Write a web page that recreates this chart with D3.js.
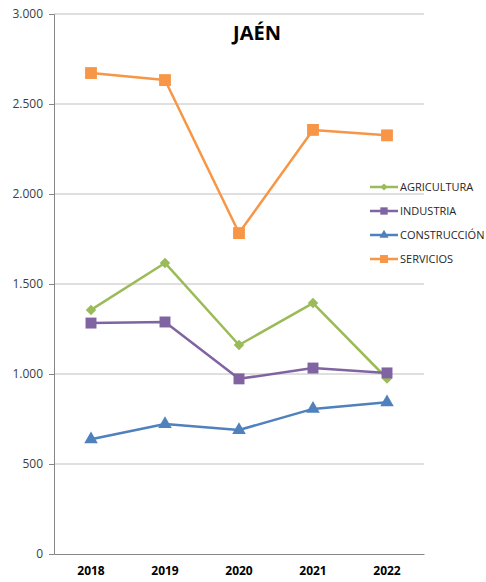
<!DOCTYPE html>
<html>
<head>
<meta charset="utf-8">
<script src="https://cdn.jsdelivr.net/npm/d3@7"></script>
<style>
body { margin: 0; background: #fff; }
svg text { font-family: "Open Sans", "Liberation Sans", sans-serif; }
</style>
</head>
<body>
<svg id="chart" width="486" height="582"></svg>
<script>
// data
var years = ["2018", "2019", "2020", "2021", "2022"];
var agricultura  = [1356, 1617, 1161, 1394, 975];
var industria    = [1283, 1289, 973, 1033, 1006];
var construccion = [637, 722, 689, 806, 843];
var servicios    = [2672, 2633, 1783, 2356, 2326];
var yTicks = [0, 500, 1000, 1500, 2000, 2500, 3000];

var series = [
    {name: "AGRICULTURA",  values: agricultura,  color: "#9BBB59", symbol: d3.symbolDiamond2, size: 70},
    {name: "INDUSTRIA",    values: industria,    color: "#8064A2", symbol: d3.symbolSquare,   size: 120},
    {name: "CONSTRUCCIÓN", values: construccion, color: "#4F81BD", symbol: d3.symbolTriangle, size: 80},
    {name: "SERVICIOS",    values: servicios,    color: "#F79646", symbol: d3.symbolSquare,   size: 140}
];

var svg = d3.select("#chart"),
    margin = {top: 14, left: 54},
    width = 370,
    height = 540,
    g = svg.append("g").attr("transform", "translate(" + margin.left + "," + margin.top + ")");

var x = d3.scaleBand().domain(years).range([0, width]);
var y = d3.scaleLinear().domain([0, 3000]).range([height, 0]);
var fmt = d3.format(",.0f");
var fmtEs = v => fmt(v).replace(/,/g, ".");

// gridlines
g.selectAll(".grid")
    .data(yTicks.filter(d => d > 0))
    .enter().append("line")
    .attr("x1", 0).attr("x2", width)
    .attr("y1", d => y(d)).attr("y2", d => y(d))
    .attr("stroke", "#BFBFBF").attr("stroke-width", 1);

// y axis
var yAxis = g.append("g")
    .call(d3.axisLeft(y).tickValues(yTicks).tickFormat(fmtEs).tickSize(5).tickPadding(6));
yAxis.select(".domain").attr("stroke", "#868686");
yAxis.selectAll(".tick line").attr("stroke", "#868686");
yAxis.selectAll("text").attr("fill", "#404040").style("font-size", "12px");

// x axis
var xAxis = g.append("g")
    .attr("transform", "translate(0," + height + ")")
    .call(d3.axisBottom(x).tickSize(0).tickPadding(12));
xAxis.select(".domain").attr("stroke", "#868686");
xAxis.selectAll("text").attr("fill", "#000").style("font-size", "12px").style("font-weight", "bold");

// lines + markers
var line = d3.line()
    .x((d, i) => x(years[i]) + x.bandwidth() / 2)
    .y(d => y(d));

series.forEach(function (s) {
    g.append("path")
        .attr("d", line(s.values))
        .attr("fill", "none")
        .attr("stroke", s.color)
        .attr("stroke-width", 2.5)
        .attr("stroke-linejoin", "round");

    g.selectAll(null)
        .data(s.values).enter()
        .append("path")
        .attr("d", d3.symbol().type(s.symbol).size(s.size))
        .attr("transform", (d, i) => "translate(" + (x(years[i]) + x.bandwidth() / 2) + "," + y(d) + ")")
        .attr("fill", s.color);
});

// title
svg.append("text")
    .attr("x", 257).attr("y", 40)
    .attr("text-anchor", "middle")
    .style("font-size", "20px").style("font-weight", "bold")
    .text("JAÉN");

// legend
var legend = svg.selectAll(".legend")
    .data(series).enter()
    .append("g")
    .attr("transform", (d, i) => "translate(370," + (187 + i * 24) + ")");

legend.append("line")
    .attr("x1", 0).attr("x2", 28)
    .attr("stroke", d => d.color).attr("stroke-width", 2.5);
legend.append("path")
    .attr("d", d => d3.symbol().type(d.symbol).size(d.size * 0.45)())
    .attr("transform", "translate(14,0)")
    .attr("fill", d => d.color);
legend.append("text")
    .attr("x", 30).attr("dy", "0.35em")
    .attr("fill", "#262626")
    .style("font-size", "11px")
    .text(d => d.name);
</script>
</body>
</html>
